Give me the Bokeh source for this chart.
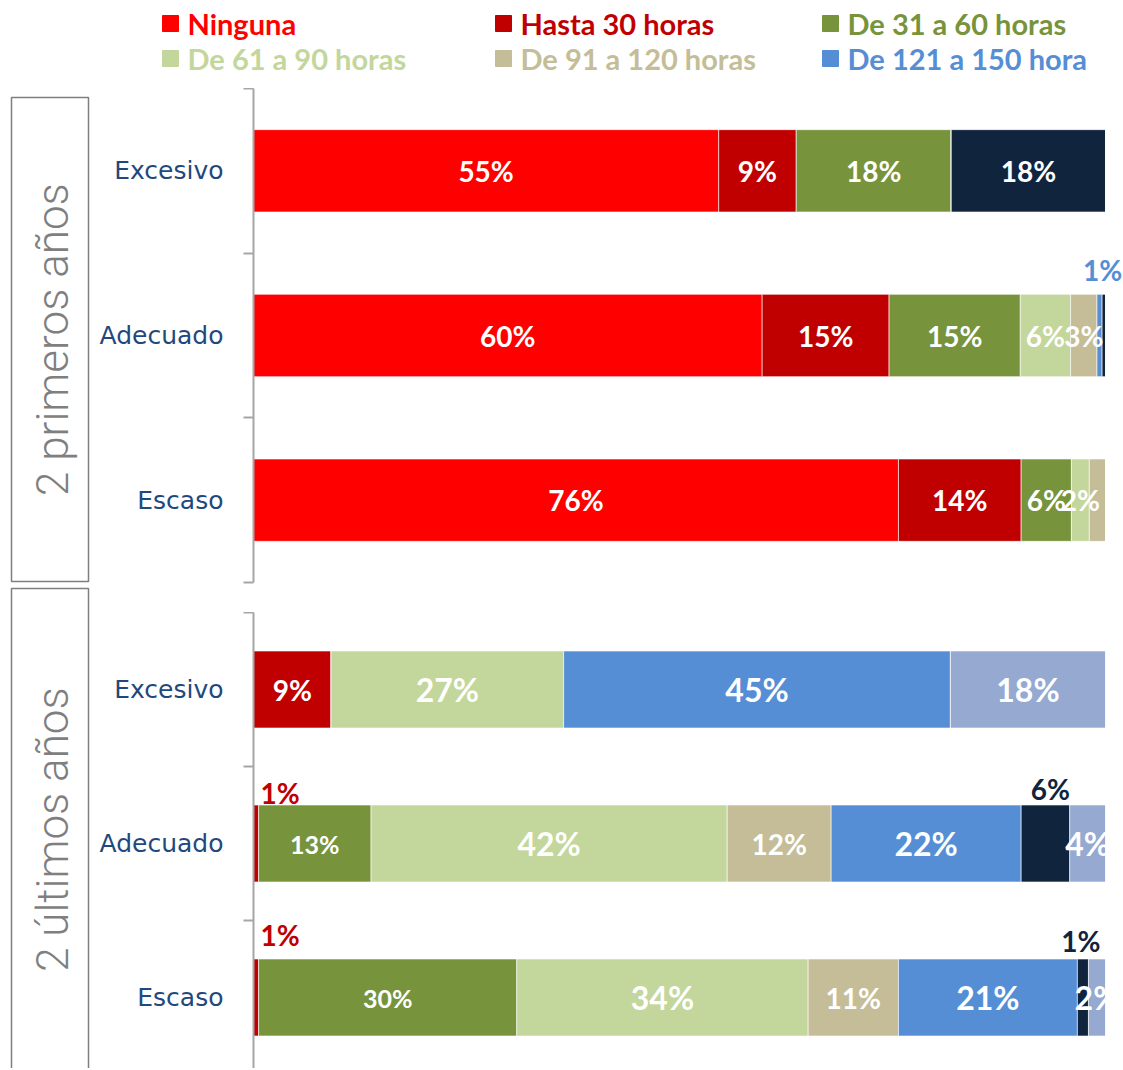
import math
from bokeh.plotting import figure
from bokeh.layouts import column, row
from bokeh.models import ColumnDataSource, Range1d, FixedTicker, LabelSet
from bokeh.core.properties import value
from bokeh.embed import file_html
from bokeh.resources import INLINE

# ---------------- data ----------------
SERIES = ["Ninguna", "Hasta 30 horas", "De 31 a 60 horas", "De 61 a 90 horas",
          "De 91 a 120 horas", "De 121 a 150 hora", "Más de 150 horas", "Sin dato"]
LEGEND_COUNT = 6  # the legend only shows the first six series
COLORS = ["#FF0000", "#C00000", "#77933C", "#C3D69B",
          "#C4BD97", "#558ED5", "#10243E", "#95A9D1"]
CATEGORIES = ["Excesivo", "Adecuado", "Escaso"]
GROUPS = ["2 primeros años", "2 últimos años"]

TOP_EXCESIVO = [54.6, 9.1, 18.2, 0, 0, 0, 18.1, 0]
TOP_ADECUADO = [59.7, 14.9, 15.4, 5.9, 3.1, 0.6, 0.4, 0]
TOP_ESCASO = [75.7, 14.4, 5.9, 2.1, 1.9, 0, 0, 0]

BOTTOM_EXCESIVO = [0, 9.1, 0, 27.3, 0, 45.4, 0, 18.2]
BOTTOM_ADECUADO = [0, 0.6, 13.2, 41.8, 12.2, 22.3, 5.7, 4.2]
BOTTOM_ESCASO = [0, 0.6, 30.3, 34.2, 10.6, 21.0, 1.3, 2.0]

# labels not shown / shown above the bar (category, series index)
TOP_HIDDEN = {("Adecuado", 6), ("Escaso", 4)}
BOTTOM_HIDDEN = set()
TOP_OUTSIDE = {("Adecuado", 5)}
BOTTOM_OUTSIDE = {("Adecuado", 1), ("Adecuado", 6), ("Escaso", 1), ("Escaso", 6)}

# ---------------- styles ----------------
FONT = "Lato"
AXIS_FONT = "DejaVu Sans"
CAT_COLOR = "#1F497D"
GRAY = "#7F7F7F"
TOP_LABEL_SIZES = [28] * 8
BOTTOM_LABEL_SIZES = [28, 28, 25, 32, 28, 32, 28, 32]
OUTSIDE_SIZE = 28
# pixel nudges for labels above the bars (dx, dy)
OUTSIDE_NUDGE = {
    ("top", "Adecuado", 5): (3, 13),
    ("bottom", "Adecuado", 1): (24, 1),
    ("bottom", "Adecuado", 6): (5, 5),
    ("bottom", "Escaso", 1): (24, 13),
    ("bottom", "Escaso", 6): (-2, 7),
}

TOTAL_W = 1123
LEG_H = 88
BOX_W = 92
CHART_W = TOTAL_W - BOX_W
ML = 161
FULL_W = 852.0          # pixels for 100 %
TOP_H = 524
BOT_H = 456
BAND = 154.0


def base_fig(w, h, **kw):
    p = figure(width=w, height=h, output_backend="svg", toolbar_location=None,
               min_border_left=kw.pop("ml", 0), min_border_right=kw.pop("mr", 0),
               min_border_top=kw.pop("mt", 0), min_border_bottom=kw.pop("mb", 0),
               **kw)
    p.outline_line_color = None
    p.background_fill_color = "white"
    p.border_fill_color = "white"
    return p


def chart(key, rows, hidden, outside, sizes, h, y_start, mb):
    x_end = 100.0 * (CHART_W - ML) / FULL_W
    p = base_fig(CHART_W, h, ml=ML, mr=0, mt=0, mb=mb,
                 x_range=Range1d(0, x_end), y_range=Range1d(y_start, 3),
                 x_axis_location=None, y_axis_location="left")
    p.grid.grid_line_color = None
    ypos = [len(CATEGORIES) - i - 0.5 for i in range(len(CATEGORIES))]
    data = {"y": ypos}
    for j, s in enumerate(SERIES):
        data[s] = [r[j] for r in rows]
    src = ColumnDataSource(data)
    p.hbar_stack(SERIES, y="y", height=0.5, color=COLORS, source=src,
                 line_color="white", line_width=0.6)

    inside = dict(x=[], y=[], text=[], size=[])
    out = dict(x=[], y=[], text=[], color=[], dx=[], dy=[])
    for i, cat in enumerate(CATEGORIES):
        left = 0.0
        for j, v in enumerate(rows[i]):
            if v > 0 and (cat, j) not in hidden:
                txt = f"{round(v)}%"
                if (cat, j) in outside:
                    dx, dy = OUTSIDE_NUDGE[(key, cat, j)]
                    out["x"].append(left + v / 2)
                    out["y"].append(ypos[i] + 0.25)
                    out["text"].append(txt)
                    out["color"].append(COLORS[j])
                    out["dx"].append(dx)
                    out["dy"].append(dy)
                else:
                    inside["x"].append(left + v / 2)
                    inside["y"].append(ypos[i])
                    inside["text"].append(txt)
                    inside["size"].append(f"{sizes[j]}px")
            left += v
    p.text(x="x", y="y", text="text", text_font_size="size", text_color="white",
           text_align="center", text_baseline="middle", text_font=value(FONT),
           text_font_style="bold", source=ColumnDataSource(inside))
    # the bars' plot area ends at 100 %: hide what overflows it inside the bars
    p.quad(left=[100] * len(ypos), right=[x_end] * len(ypos),
           bottom=[y - 0.26 for y in ypos], top=[y + 0.26 for y in ypos],
           fill_color="white", line_color=None)
    labels = LabelSet(x="x", y="y", text="text", x_offset="dx", y_offset="dy",
                      text_color="color", text_font_size=f"{OUTSIDE_SIZE}px",
                      text_font=value(FONT), text_font_style="bold",
                      text_align="center", text_baseline="alphabetic",
                      source=ColumnDataSource(out))
    p.add_layout(labels)

    ax = p.yaxis[0]
    ax.ticker = FixedTicker(ticks=ypos, minor_ticks=[0.0, 1.0, 2.0, 3.0])
    ax.major_label_overrides = {y: c for y, c in zip(ypos, CATEGORIES)}
    ax.major_tick_out = 0
    ax.major_tick_in = 0
    ax.minor_tick_out = 10
    ax.minor_tick_in = 0
    ax.minor_tick_line_color = "#A6A6A6"
    ax.minor_tick_line_width = 2
    ax.axis_line_color = "#A6A6A6"
    ax.axis_line_width = 2
    ax.major_label_standoff = 20
    ax.major_label_text_font = AXIS_FONT
    ax.major_label_text_font_size = "25px"
    ax.major_label_text_color = CAT_COLOR
    return p


# ---------------- legend ----------------
leg = base_fig(TOTAL_W, LEG_H, x_range=Range1d(0, TOTAL_W), y_range=Range1d(0, LEG_H),
               x_axis_location=None, y_axis_location=None)
leg.grid.grid_line_color = None
col_x = [162, 495, 822]
row_y = [65, 30]
lx, ly, lt, lc = [], [], [], []
for k in range(LEGEND_COUNT):
    lx.append(col_x[k % 3])
    ly.append(row_y[k // 3])
    lt.append(SERIES[k])
    lc.append(COLORS[k])
lsrc = ColumnDataSource(dict(x=lx, y=ly, text=lt, color=lc,
                             sx=[x + 8 for x in lx], tx=[x + 25 for x in lx]))
leg.scatter(x="sx", y="y", marker="square", size=16, color="color", source=lsrc)
leg.text(x="tx", y="y", text="text", text_color="color", text_font=value(FONT),
         text_font_style="bold", text_font_size="29px", text_baseline="middle",
         text_align="left", source=lsrc)

# ---------------- group boxes ----------------
BOX_H = TOP_H + BOT_H
box = base_fig(BOX_W, BOX_H, x_range=Range1d(0, BOX_W), y_range=Range1d(0, BOX_H),
               x_axis_location=None, y_axis_location=None)
box.grid.grid_line_color = None
box.quad(left=[11, 11], right=[88, 88], top=[971, 480], bottom=[487, -10],
         fill_color=None, line_color=GRAY, line_width=1.5)
box.text(x=[52, 52], y=[729, 239], text=GROUPS, angle=math.pi / 2,
         text_align="center", text_baseline="middle", text_color=GRAY,
         text_font=value("Roboto Light"), text_font_size="44px")

# ---------------- charts ----------------
top = chart("top", [TOP_EXCESIVO, TOP_ADECUADO, TOP_ESCASO], TOP_HIDDEN, TOP_OUTSIDE,
            TOP_LABEL_SIZES, TOP_H, 0, 30)
bottom = chart("bottom", [BOTTOM_EXCESIVO, BOTTOM_ADECUADO, BOTTOM_ESCASO],
               BOTTOM_HIDDEN, BOTTOM_OUTSIDE, BOTTOM_LABEL_SIZES, BOT_H,
               3 - BOT_H / BAND, 0)

layout = column(leg, row(box, column(top, bottom)))
open("out.html", "w").write(file_html(layout, INLINE))
